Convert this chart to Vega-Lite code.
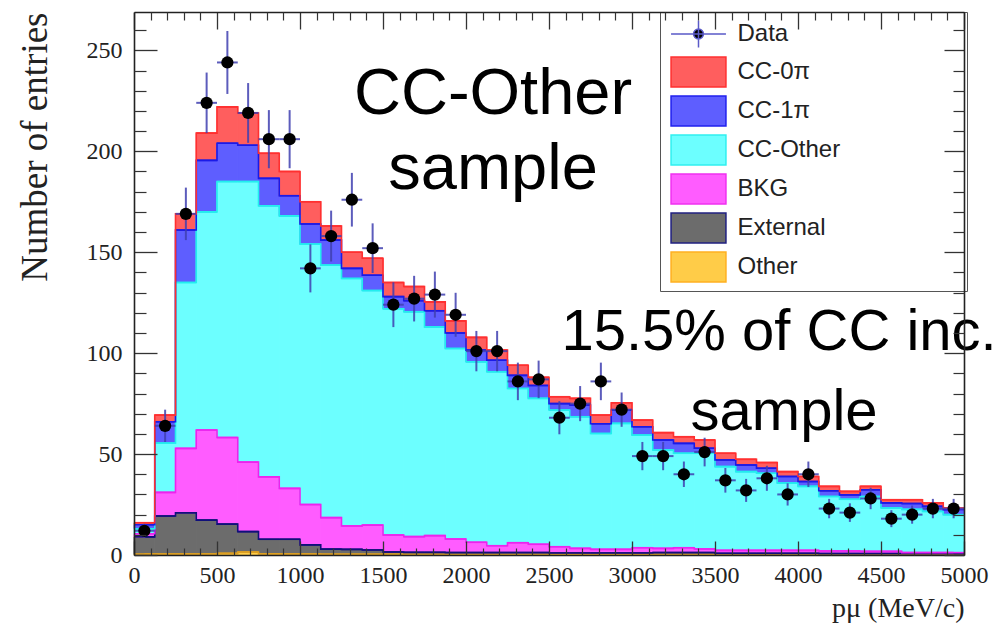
{
  "$schema": "https://vega.github.io/schema/vega-lite/v6.json",
  "autosize": {"type": "none"},
  "width": 830,
  "height": 543,
  "padding": {"left": 134, "top": 12, "right": 37, "bottom": 89},
  "background": "white",
  "config": {"view": {"stroke": null}, "axis": {"grid": false}},
  "datasets": {
    "bins": [
      {"lo":0,"hi":125,"mid":62.5,"n":12,"elo":8.5,"ehi":15.5,"Other":0.5,"External":8.5,"BKG":1.5,"CC-Other":2.5,"CC-1π":2,"CC-0π":1},
      {"lo":125,"hi":250,"mid":187.5,"n":64,"elo":56,"ehi":72,"Other":0.5,"External":18.8,"BKG":11.7,"CC-Other":24.4,"CC-1π":10.6,"CC-0π":3.3},
      {"lo":250,"hi":375,"mid":312.5,"n":169,"elo":156,"ehi":182,"Other":0.5,"External":20.4,"BKG":31.9,"CC-Other":82.2,"CC-1π":26,"CC-0π":8},
      {"lo":375,"hi":500,"mid":437.5,"n":224,"elo":209,"ehi":239,"Other":0.5,"External":16.8,"BKG":44.6,"CC-Other":108.1,"CC-1π":25.5,"CC-0π":13.5},
      {"lo":500,"hi":625,"mid":562.5,"n":244,"elo":228.4,"ehi":259.6,"Other":0.8,"External":14.5,"BKG":42.9,"CC-Other":126.8,"CC-1π":19,"CC-0π":18},
      {"lo":625,"hi":750,"mid":687.5,"n":219,"elo":204.2,"ehi":233.8,"Other":1.5,"External":10.1,"BKG":34.4,"CC-Other":139,"CC-1π":18,"CC-0π":16},
      {"lo":750,"hi":875,"mid":812.5,"n":206,"elo":191.6,"ehi":220.4,"Other":0.6,"External":7.2,"BKG":30.9,"CC-Other":134.3,"CC-1π":13.6,"CC-0π":12.4},
      {"lo":875,"hi":1000,"mid":937.5,"n":206,"elo":191.6,"ehi":220.4,"Other":0.5,"External":7.3,"BKG":25.2,"CC-Other":135,"CC-1π":10,"CC-0π":12},
      {"lo":1000,"hi":1125,"mid":1062.5,"n":142,"elo":130.1,"ehi":153.9,"Other":0.5,"External":4.5,"BKG":20,"CC-Other":129,"CC-1π":10,"CC-0π":11},
      {"lo":1125,"hi":1250,"mid":1187.5,"n":158,"elo":145.4,"ehi":170.6,"Other":0.4,"External":2.5,"BKG":15.6,"CC-Other":125.1,"CC-1π":12.4,"CC-0π":7},
      {"lo":1250,"hi":1375,"mid":1312.5,"n":176,"elo":162.7,"ehi":189.3,"Other":0.4,"External":2.4,"BKG":11.6,"CC-Other":122.6,"CC-1π":5,"CC-0π":8},
      {"lo":1375,"hi":1500,"mid":1437.5,"n":152,"elo":139.7,"ehi":164.3,"Other":0.4,"External":2.1,"BKG":12.3,"CC-Other":116.2,"CC-1π":7.6,"CC-0π":8.4},
      {"lo":1500,"hi":1625,"mid":1562.5,"n":124,"elo":112.9,"ehi":135.1,"Other":0.4,"External":1.1,"BKG":8.4,"CC-Other":112.1,"CC-1π":6,"CC-0π":7},
      {"lo":1625,"hi":1750,"mid":1687.5,"n":127,"elo":115.7,"ehi":138.3,"Other":0.4,"External":0.9,"BKG":7.8,"CC-Other":111.4,"CC-1π":5.5,"CC-0π":7},
      {"lo":1750,"hi":1875,"mid":1812.5,"n":129,"elo":117.6,"ehi":140.4,"Other":0.4,"External":0.9,"BKG":8.3,"CC-Other":103.4,"CC-1π":8,"CC-0π":4.4},
      {"lo":1875,"hi":2000,"mid":1937.5,"n":119,"elo":108.1,"ehi":129.9,"Other":0.3,"External":0.9,"BKG":6.7,"CC-Other":94.4,"CC-1π":7.7,"CC-0π":6},
      {"lo":2000,"hi":2125,"mid":2062.5,"n":101,"elo":91,"ehi":111,"Other":0.3,"External":0.9,"BKG":5.1,"CC-Other":89.4,"CC-1π":5.8,"CC-0π":6.3},
      {"lo":2125,"hi":2250,"mid":2187.5,"n":101,"elo":91,"ehi":111,"Other":0.3,"External":0.9,"BKG":3.4,"CC-Other":86.2,"CC-1π":5.7,"CC-0π":5},
      {"lo":2250,"hi":2375,"mid":2312.5,"n":86,"elo":76.7,"ehi":95.3,"Other":0.3,"External":0.9,"BKG":4.9,"CC-Other":76.4,"CC-1π":6.5,"CC-0π":5},
      {"lo":2375,"hi":2500,"mid":2437.5,"n":87,"elo":77.7,"ehi":96.3,"Other":0.3,"External":0.9,"BKG":4.1,"CC-Other":72.3,"CC-1π":6.4,"CC-0π":4},
      {"lo":2500,"hi":2625,"mid":2562.5,"n":68,"elo":59.8,"ehi":76.2,"Other":0.3,"External":0.7,"BKG":3.1,"CC-Other":67.7,"CC-1π":3.2,"CC-0π":3.4},
      {"lo":2625,"hi":2750,"mid":2687.5,"n":75,"elo":66.3,"ehi":83.7,"Other":0.3,"External":0.7,"BKG":2.3,"CC-Other":65.2,"CC-1π":5.8,"CC-0π":3.3},
      {"lo":2750,"hi":2875,"mid":2812.5,"n":86,"elo":76.7,"ehi":95.3,"Other":0.3,"External":0.7,"BKG":1.8,"CC-Other":57.4,"CC-1π":4.8,"CC-0π":4.3},
      {"lo":2875,"hi":3000,"mid":2937.5,"n":72,"elo":63.5,"ehi":80.5,"Other":0.3,"External":0.7,"BKG":1.8,"CC-Other":62.4,"CC-1π":6.6,"CC-0π":3.6},
      {"lo":3000,"hi":3125,"mid":3062.5,"n":49,"elo":42,"ehi":56,"Other":0.3,"External":0.7,"BKG":2.6,"CC-Other":55.8,"CC-1π":4.1,"CC-0π":3.3},
      {"lo":3125,"hi":3250,"mid":3187.5,"n":49,"elo":42,"ehi":56,"Other":0.3,"External":0.9,"BKG":2.1,"CC-Other":48.7,"CC-1π":5,"CC-0π":3.6},
      {"lo":3250,"hi":3375,"mid":3312.5,"n":40,"elo":33.7,"ehi":46.3,"Other":0.3,"External":0.9,"BKG":2.4,"CC-Other":46.8,"CC-1π":4.9,"CC-0π":3.3},
      {"lo":3375,"hi":3500,"mid":3437.5,"n":51,"elo":43.9,"ehi":58.1,"Other":0.3,"External":0.9,"BKG":1.8,"CC-Other":47.4,"CC-1π":2.5,"CC-0π":4.1},
      {"lo":3500,"hi":3625,"mid":3562.5,"n":37,"elo":30.9,"ehi":43.1,"Other":0.2,"External":0.6,"BKG":1.5,"CC-Other":41.5,"CC-1π":3.3,"CC-0π":3.3},
      {"lo":3625,"hi":3750,"mid":3687.5,"n":32,"elo":26.3,"ehi":37.7,"Other":0.2,"External":0.6,"BKG":1.5,"CC-Other":39,"CC-1π":3.3,"CC-0π":2.8},
      {"lo":3750,"hi":3875,"mid":3812.5,"n":38,"elo":31.8,"ehi":44.2,"Other":0.2,"External":0.6,"BKG":1.5,"CC-Other":38.2,"CC-1π":2.5,"CC-0π":2.8},
      {"lo":3875,"hi":4000,"mid":3937.5,"n":30,"elo":24.5,"ehi":35.5,"Other":0.2,"External":0.6,"BKG":1.5,"CC-Other":33.3,"CC-1π":3.3,"CC-0π":2.4},
      {"lo":4000,"hi":4125,"mid":4062.5,"n":40,"elo":33.7,"ehi":46.3,"Other":0.2,"External":0.6,"BKG":1.5,"CC-Other":31.7,"CC-1π":2.4,"CC-0π":2.5},
      {"lo":4125,"hi":4250,"mid":4187.5,"n":23,"elo":18.2,"ehi":27.8,"Other":0.2,"External":0.5,"BKG":1.3,"CC-Other":27,"CC-1π":2.8,"CC-0π":2.2},
      {"lo":4250,"hi":4375,"mid":4312.5,"n":21,"elo":16.4,"ehi":25.6,"Other":0.2,"External":0.5,"BKG":1.3,"CC-Other":25.6,"CC-1π":2.2,"CC-0π":1.7},
      {"lo":4375,"hi":4500,"mid":4437.5,"n":28,"elo":22.7,"ehi":33.3,"Other":0.2,"External":0.5,"BKG":1.1,"CC-Other":27.2,"CC-1π":3.3,"CC-0π":1.7},
      {"lo":4500,"hi":4625,"mid":4562.5,"n":18,"elo":13.8,"ehi":22.2,"Other":0.2,"External":0.5,"BKG":1.1,"CC-Other":21.5,"CC-1π":2.5,"CC-0π":1.6},
      {"lo":4625,"hi":4750,"mid":4687.5,"n":20,"elo":15.5,"ehi":24.5,"Other":0.2,"External":0.4,"BKG":0.6,"CC-Other":21.4,"CC-1π":2.9,"CC-0π":1.9},
      {"lo":4750,"hi":4875,"mid":4812.5,"n":23,"elo":18.2,"ehi":27.8,"Other":0.2,"External":0.4,"BKG":0.6,"CC-Other":20.4,"CC-1π":2.5,"CC-0π":1.7},
      {"lo":4875,"hi":5000,"mid":4937.5,"n":23,"elo":18.2,"ehi":27.8,"Other":0.2,"External":0.4,"BKG":0.6,"CC-Other":18.8,"CC-1π":2.5,"CC-0π":0.8}
    ],
    "notes1": [
      {"x": 2163, "y": 218.5, "t": "CC-Other"},
      {"x": 2163, "y": 181.5, "t": "sample"}
    ],
    "notes2": [
      {"x": 3886, "y": 101.5, "t": "15.5% of CC inc."},
      {"x": 3916, "y": 62, "t": "sample"}
    ]
  },
  "resolve": {"axis": {"x": "independent", "y": "independent"}, "scale": {"stroke": "independent"}},
  "layer": [
    {
      "data": {"name": "bins"},
      "transform": [
        {"fold": ["Other", "External", "BKG", "CC-Other", "CC-1π", "CC-0π"], "as": ["comp", "v"]},
        {"stack": "v", "groupby": ["lo"], "as": ["y0", "y1"]}
      ],
      "mark": {"type": "rect", "strokeWidth": 1},
      "encoding": {
        "x": {"field": "lo", "type": "quantitative", "scale": {"domain": [0, 5000], "nice": false, "zero": false},
          "axis": {"orient": "bottom", "values": [0,500,1000,1500,2000,2500,3000,3500,4000,4500,5000], "format": "d", "ticks": false, "domain": false, "labelFlush": false, "labelOverlap": false,
            "labelFont": "Liberation Serif", "labelFontSize": 24, "labelColor": "#222", "labelPadding": 8,
            "title": "pμ (MeV/c)", "titleFont": "Liberation Serif", "titleFontSize": 28, "titleFontWeight": "normal", "titleColor": "#222", "titleAnchor": "end", "titlePadding": 7}},
        "x2": {"field": "hi"},
        "y": {"field": "y0", "type": "quantitative", "scale": {"domain": [0, 269], "nice": false},
          "axis": {"orient": "left", "values": [0,50,100,150,200,250], "format": "d", "ticks": false, "domain": false, "labelFlush": false, "labelOverlap": false,
            "labelFont": "Liberation Serif", "labelFontSize": 24, "labelColor": "#222", "labelPadding": 12,
            "title": "Number of entries", "titleFont": "Liberation Serif", "titleFontSize": 37, "titleFontWeight": "normal", "titleColor": "#222", "titleAnchor": "end", "titlePadding": 32}},
        "y2": {"field": "y1"},
        "fill": {"field": "comp", "type": "nominal",
          "scale": {"domain": ["Data", "CC-0π", "CC-1π", "CC-Other", "BKG", "External", "Other"],
                    "range": ["#000000", "#ff5e5e", "#5e5eff", "#6cffff", "#ff5cff", "#6c6c6c", "#ffcc48"]},
          "legend": {"orient": "none", "legendX": 526, "legendY": 0, "title": null, "padding": 6,
            "symbolSize": 900, "symbolOffset": 16.5, "labelOffset": 23, "rowPadding": 3,
            "labelFont": "Liberation Sans", "labelFontSize": 24, "labelColor": "#222", "labelLimit": 500,
            "labelExpr": "datum.label + '\u00a0\u00a0\u00a0\u00a0\u00a0\u00a0\u00a0\u00a0\u00a0\u00a0\u00a0\u00a0\u00a0\u00a0\u00a0\u00a0\u00a0\u00a0\u200b'",
            "strokeColor": "#555", "fillColor": "white", "symbolStrokeWidth": 1.5, "symbolOpacity": 1,
            "encode": {"symbols": {"update": {
              "shape": {"signal": "datum.value === 'Data' ? 'M-1.83,0H1.83M0,-0.9V0.9M-0.33,0A0.33,0.33 0 1,1 0.33,0A0.33,0.33 0 1,1 -0.33,0Z' : 'M-1.83,-1H1.83V1H-1.83Z'"},
              "stroke": {"signal": "datum.value === 'Data' ? '#5a5ac8' : datum.value === 'CC-0π' ? '#ff3030' : datum.value === 'CC-1π' ? '#2020ee' : datum.value === 'CC-Other' ? '#30f0f0' : datum.value === 'BKG' ? '#f030f0' : datum.value === 'External' ? '#202080' : '#ffb020'"},
              "strokeWidth": {"value": 1.5}
            }}}}
        },
        "stroke": {"field": "comp", "type": "nominal",
          "scale": {"domain": ["CC-0π", "CC-1π", "CC-Other", "BKG", "External", "Other"],
                    "range": ["#ff5e5e", "#5e5eff", "#6cffff", "#ff5cff", "#6c6c6c", "#ffcc48"]},
          "legend": null}
      }
    },
    {
      "data": {"name": "bins"},
      "transform": [
        {"fold": ["Other", "External", "BKG", "CC-Other", "CC-1π", "CC-0π"], "as": ["comp", "v"]},
        {"stack": "v", "groupby": ["lo"], "as": ["y0", "y1"]}
      ],
      "mark": {"type": "rule", "strokeWidth": 1.6},
      "encoding": {
        "x": {"field": "lo", "type": "quantitative", "scale": {"domain": [0, 5000], "nice": false, "zero": false},
          "axis": {"orient": "bottom", "values": [0,500,1000,1500,2000,2500,3000,3500,4000,4500,5000], "tickSize": -14, "tickWidth": 1.3, "tickColor": "#333", "labels": false, "domain": true, "domainColor": "#222", "domainWidth": 1.6, "title": null, "zindex": 2}},
        "x2": {"field": "hi"},
        "y": {"field": "y1", "type": "quantitative", "scale": {"domain": [0, 269], "nice": false},
          "axis": {"orient": "left", "values": [0,50,100,150,200,250], "tickSize": -23, "tickWidth": 1.3, "tickColor": "#333", "labels": false, "domain": true, "domainColor": "#222", "domainWidth": 1.6, "title": null, "zindex": 2}},
        "stroke": {"field": "comp", "type": "nominal",
          "scale": {"domain": ["Other", "External", "BKG", "CC-Other", "CC-1π", "CC-0π"], "range": ["#e0a020", "#10107a", "#ee22ee", "#22eeee", "#1a1ae8", "#ff3030"]},
          "legend": null}
      }
    },
    {
      "data": {"name": "bins"},
      "transform": [
        {"fold": ["Other", "External", "BKG", "CC-Other", "CC-1π", "CC-0π"], "as": ["comp", "v"]},
        {"stack": "v", "groupby": ["lo"], "as": ["y0", "y1"]}
      ],
      "mark": {"type": "line", "interpolate": "step", "strokeWidth": 1.6},
      "encoding": {
        "x": {"field": "mid", "type": "quantitative", "scale": {"domain": [0, 5000], "nice": false, "zero": false},
          "axis": {"orient": "bottom", "values": [100,200,300,400,600,700,800,900,1100,1200,1300,1400,1600,1700,1800,1900,2100,2200,2300,2400,2600,2700,2800,2900,3100,3200,3300,3400,3600,3700,3800,3900,4100,4200,4300,4400,4600,4700,4800,4900], "tickSize": -7, "tickWidth": 1.2, "tickColor": "#333", "labels": false, "domain": false, "title": null, "zindex": 2}},
        "y": {"field": "y1", "type": "quantitative", "scale": {"domain": [0, 269], "nice": false},
          "axis": {"orient": "left", "values": [10,20,30,40,60,70,80,90,110,120,130,140,160,170,180,190,210,220,230,240,260], "tickSize": -12, "tickWidth": 1.2, "tickColor": "#333", "labels": false, "domain": false, "title": null, "zindex": 2}},
        "stroke": {"field": "comp", "type": "nominal",
          "scale": {"domain": ["Other", "External", "BKG", "CC-Other", "CC-1π", "CC-0π"], "range": ["#e0a020", "#10107a", "#ee22ee", "#22eeee", "#1a1ae8", "#ff3030"]},
          "legend": null}
      }
    },
    {
      "data": {"name": "bins"},
      "mark": {"type": "rule", "strokeWidth": 2, "color": "#4040b0", "opacity": 0.85},
      "encoding": {
        "x": {"field": "lo", "type": "quantitative", "scale": {"domain": [0, 5000], "nice": false, "zero": false},
          "axis": {"orient": "top", "values": [0,500,1000,1500,2000,2500,3000,3500,4000,4500,5000], "tickSize": -17, "tickWidth": 1.3, "tickColor": "#333", "labels": false, "domain": true, "domainColor": "#222", "domainWidth": 1.6, "title": null, "zindex": 2}},
        "x2": {"field": "hi"},
        "y": {"field": "n", "type": "quantitative", "scale": {"domain": [0, 269], "nice": false},
          "axis": {"orient": "right", "values": [0,50,100,150,200,250], "tickSize": -20, "tickWidth": 1.3, "tickColor": "#333", "labels": false, "domain": true, "domainColor": "#222", "domainWidth": 1.6, "title": null, "zindex": 2}}
      }
    },
    {
      "data": {"name": "bins"},
      "mark": {"type": "rule", "strokeWidth": 2, "color": "#4040b0", "opacity": 0.85},
      "encoding": {
        "x": {"field": "mid", "type": "quantitative", "scale": {"domain": [0, 5000], "nice": false, "zero": false},
          "axis": {"orient": "top", "values": [100,200,300,400,600,700,800,900,1100,1200,1300,1400,1600,1700,1800,1900,2100,2200,2300,2400,2600,2700,2800,2900,3100,3200,3300,3400,3600,3700,3800,3900,4100,4200,4300,4400,4600,4700,4800,4900], "tickSize": -8, "tickWidth": 1.2, "tickColor": "#333", "labels": false, "domain": false, "title": null, "zindex": 2}},
        "y": {"field": "elo", "type": "quantitative", "scale": {"domain": [0, 269], "nice": false},
          "axis": {"orient": "right", "values": [10,20,30,40,60,70,80,90,110,120,130,140,160,170,180,190,210,220,230,240,260], "tickSize": -11, "tickWidth": 1.2, "tickColor": "#333", "labels": false, "domain": false, "title": null, "zindex": 2}},
        "y2": {"field": "ehi"}
      }
    },
    {
      "data": {"name": "bins"},
      "mark": {"type": "circle", "size": 150, "color": "#000000", "opacity": 1},
      "encoding": {
        "x": {"field": "mid", "type": "quantitative", "scale": {"domain": [0, 5000], "nice": false, "zero": false}, "axis": null},
        "y": {"field": "n", "type": "quantitative", "scale": {"domain": [0, 269], "nice": false}, "axis": null}
      }
    },
    {
      "data": {"name": "notes1"},
      "mark": {"type": "text", "font": "Liberation Sans", "fontSize": 65, "align": "center", "baseline": "alphabetic", "color": "#000000"},
      "encoding": {
        "x": {"field": "x", "type": "quantitative", "scale": {"domain": [0, 5000], "nice": false, "zero": false}, "axis": null},
        "y": {"field": "y", "type": "quantitative", "scale": {"domain": [0, 269], "nice": false}, "axis": null},
        "text": {"field": "t"}
      }
    },
    {
      "data": {"name": "notes2"},
      "mark": {"type": "text", "font": "Liberation Sans", "fontSize": 58, "align": "center", "baseline": "alphabetic", "color": "#000000"},
      "encoding": {
        "x": {"field": "x", "type": "quantitative", "scale": {"domain": [0, 5000], "nice": false, "zero": false}, "axis": null},
        "y": {"field": "y", "type": "quantitative", "scale": {"domain": [0, 269], "nice": false}, "axis": null},
        "text": {"field": "t"}
      }
    }
  ]
}
